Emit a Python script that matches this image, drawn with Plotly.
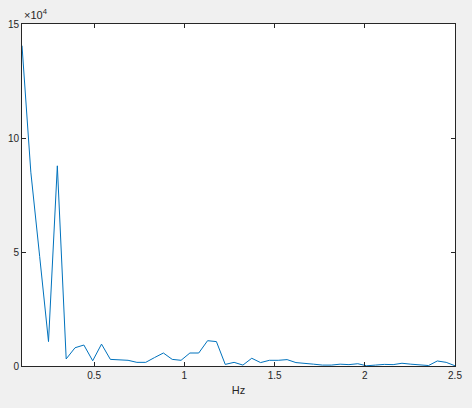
import plotly.graph_objects as go

# frequency bins (Hz)
freq = [0.1000, 0.1490, 0.1980, 0.2469, 0.2959, 0.3449, 0.3939, 0.4429, 0.4918, 0.5408,
        0.5898, 0.6388, 0.6878, 0.7367, 0.7857, 0.8347, 0.8837, 0.9327, 0.9816, 1.0306,
        1.0796, 1.1286, 1.1776, 1.2265, 1.2755, 1.3245, 1.3735, 1.4224, 1.4714, 1.5204,
        1.5694, 1.6184, 1.6673, 1.7163, 1.7653, 1.8143, 1.8633, 1.9122, 1.9612, 2.0102,
        2.0592, 2.1082, 2.1571, 2.2061, 2.2551, 2.3041, 2.3531, 2.4020, 2.4510, 2.5000]

# spectrum magnitude
power = [140500, 85000, 48000, 10700, 87800, 3100, 8000, 9200, 2300, 9600,
         2900, 2800, 2500, 1600, 1600, 3700, 5700, 2900, 2500, 5700,
         5700, 11100, 10700, 700, 1600, 400, 3400, 1500, 2500, 2500,
         2800, 1500, 1300, 800, 400, 400, 800, 600, 1000, 100,
         400, 700, 600, 1200, 800, 400, 200, 2200, 1600, 100]

ytick_vals = [0, 50000, 100000, 150000]
ytick_text = ['0', '5', '10', '15']
xtick_vals = [0.5, 1, 1.5, 2, 2.5]
xtick_text = ['0.5', '1', '1.5', '2', '2.5']

axcol = '#262626'
fnt = dict(family='Liberation Sans, Arial, sans-serif', size=10, color=axcol)

fig = go.Figure()
fig.add_trace(go.Scatter(x=freq, y=power, mode='lines',
                         line=dict(color='#0072BD', width=1), showlegend=False))

fig.update_layout(
    width=472, height=408,
    margin=dict(l=22, r=17, t=24, b=42),
    paper_bgcolor='#f0f0f0', plot_bgcolor='white',
    font=fnt,
    xaxis=dict(range=[0.1, 2.5], tickvals=xtick_vals, ticktext=xtick_text,
               ticks='inside', ticklen=4, tickcolor=axcol, showline=True,
               linecolor=axcol, linewidth=1, mirror='ticks', showgrid=False,
               zeroline=False, tickfont=fnt, automargin=False,
               title=dict(text='Hz', font=dict(family=fnt['family'], size=11, color=axcol), standoff=6)),
    yaxis=dict(range=[0, 150000], tickvals=ytick_vals, ticktext=ytick_text,
               ticks='inside', ticklen=4, tickcolor=axcol, showline=True,
               linecolor=axcol, linewidth=1, mirror='ticks', showgrid=False,
               zeroline=False, tickfont=fnt, automargin=False),
)

fig.add_annotation(text='\u00d710<sup>4</sup>', xref='paper', yref='paper',
                   x=0, y=1, xanchor='left', yanchor='bottom', yshift=1,
                   showarrow=False, font=dict(family=fnt['family'], size=11, color=axcol))

# drop the page margin so the figure sits at the window corner
fig.write_html("out.html", config={'displayModeBar': False},
               post_script="document.body.style.margin='0';document.body.style.overflow='hidden';document.body.style.background='#f0f0f0';")
